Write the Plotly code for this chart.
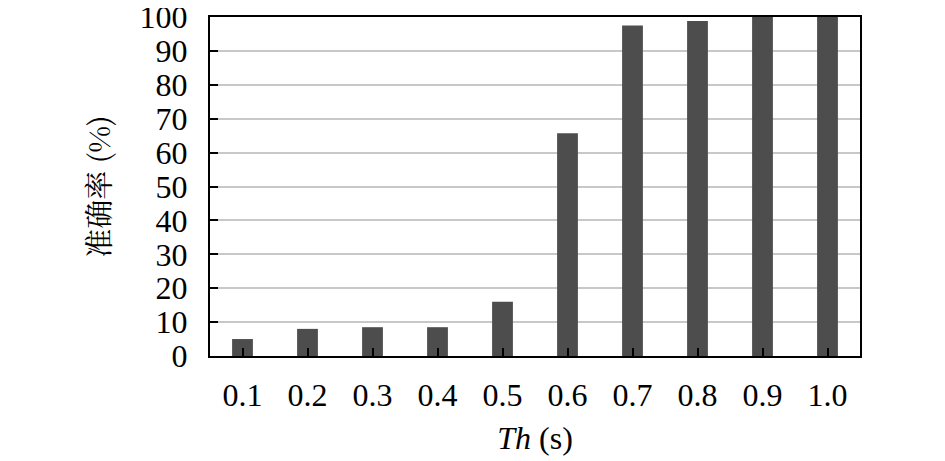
import plotly.graph_objects as go

# 阈值与准确率
th = ['0.1', '0.2', '0.3', '0.4', '0.5', '0.6', '0.7', '0.8', '0.9', '1.0']
accuracy = [5.0, 8.0, 8.5, 8.5, 16.0, 65.7, 97.5, 98.8, 100, 100]

serif = 'Liberation Serif, Times New Roman, serif'

fig = go.Figure(go.Bar(
    x=th,
    y=accuracy,
    marker=dict(color='#4d4d4d', line=dict(width=0)),
    width=0.32,
))

# 页面body有8px默认边距，这里做补偿
fig.update_layout(
    width=945,
    height=461,
    margin=dict(l=202, r=93, t=9, b=113, autoexpand=False),
    plot_bgcolor='white',
    paper_bgcolor='white',
    showlegend=False,
    font=dict(family=serif, size=32, color='black'),
)

fig.update_xaxes(
    automargin=False,
    showline=True, linecolor='black', linewidth=2, mirror=True,
    ticks='inside', ticklen=8, tickwidth=2, tickcolor='black',
    showgrid=False,
    ticklabelstandoff=10,
    title=dict(text='<i>Th</i> (s)', standoff=14,
               font=dict(family=serif, size=32)),
)

fig.update_yaxes(
    automargin=False,
    range=[0, 100], dtick=10,
    showline=True, linecolor='black', linewidth=2, mirror=True,
    ticks='inside', ticklen=8, tickwidth=2, tickcolor='black',
    ticklabeloverflow='allow',
    showgrid=True, gridcolor='#c8c8c8', gridwidth=2,
    zeroline=False,
    ticklabelstandoff=14,
    title=dict(text='准确率 (%)', standoff=20,
               font=dict(family='Noto Serif CJK SC, Noto Sans CJK SC, ' + serif, size=29)),
)

fig.write_html('out.html')
